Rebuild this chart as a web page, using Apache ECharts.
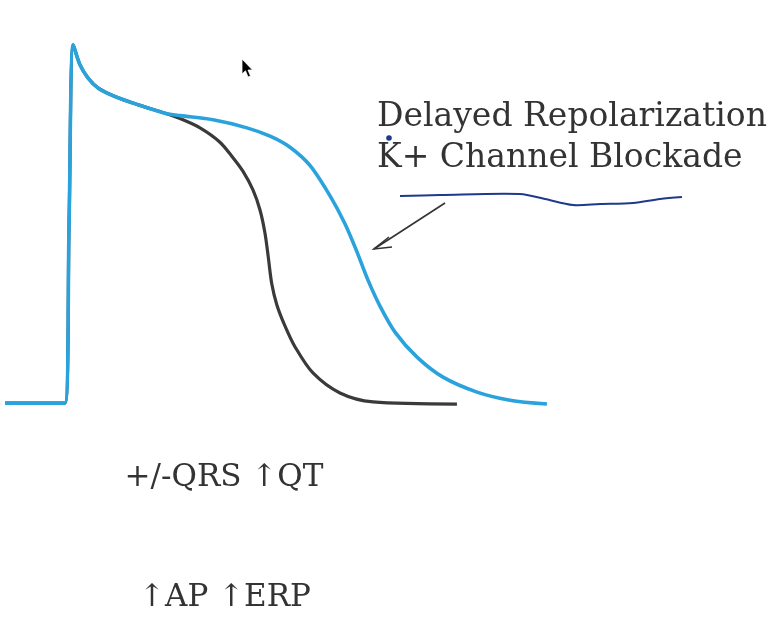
<!DOCTYPE html>
<html>
<head>
<meta charset="utf-8">
<script src="https://cdn.jsdelivr.net/npm/echarts@6/dist/echarts.min.js"></script>
<style>html,body{margin:0;padding:0;background:#fff;}#c{width:779px;height:619px;}</style>
</head>
<body>
<div id="c"></div>
<script>
// Time (ms) and membrane potential (mV)
var controlTime = [0, 40, 42.7, 45.5, 50, 55.5, 62.2, 73.3, 88.9, 106.7, 116.7, 130, 143.3, 152, 158.7, 165.3, 170, 173.3, 175.5, 177.8, 181.3, 186.7, 193.3, 205.3, 223.3, 245.3, 301.3];
var controlMv   = [-90, -90, -30, 30, 23.3, 18.8, 15.5, 12.7, 9.9, 7.1, 5.3, 2.2, -2.6, -7.8, -12.4, -18.6, -25.3, -33, -41, -49.9, -57.2, -64.2, -71.1, -79.9, -86.6, -89.6, -90.3];
var blockTime = [0, 40, 42.7, 45.5, 50, 55.5, 62.2, 73.3, 88.9, 106.7, 116.7, 138.7, 161.3, 176.7, 190, 203.3, 216.7, 226.7, 234.7, 242, 250, 260, 274.7, 292, 314.7, 336.7, 361.3];
var blockMv   = [-90, -90, -30, 30, 23.3, 18.8, 15.5, 12.7, 9.9, 7.1, 6.3, 4.9, 2.2, -0.6, -4.3, -10.4, -20.6, -30, -39.4, -48.8, -57.5, -66.2, -74.6, -81.3, -86.3, -89, -90.3];
var labelTitle = ["Delayed Repolarization", "K+ Channel Blockade"];
var labelBottom = ["+/-QRS \u2191QT", "\u2191AP \u2191ERP"];

function pairs(t, v) { return t.map(function (x, i) { return [x, v[i]]; }); }

var chart = echarts.init(document.getElementById('c'), null, {renderer: 'canvas'});
var font = '"DejaVu Serif", serif';
chart.setOption({
  backgroundColor: '#ffffff',
  animation: false,
  grid: {left: 5, right: 24, top: 15, bottom: 186},
  xAxis: {type: 'value', min: 0, max: 500, show: false, splitLine: {show: false}},
  yAxis: {type: 'value', min: -100, max: 40, show: false, splitLine: {show: false}},
  series: [
    {
      type: 'line', data: pairs(controlTime, controlMv), showSymbol: false,
      smooth: 0.3,
      lineStyle: {color: '#3a3a3a', width: 3.2}
    },
    {
      type: 'line', data: pairs(blockTime, blockMv), showSymbol: false,
      smooth: 0.3,
      lineStyle: {color: '#2aa3dc', width: 3.6}
    }
  ],
  graphic: [
    {type: 'text', x: 377, y: 101, style: {text: labelTitle[0], font: '33px ' + font, fill: '#333333'}},
    {type: 'text', x: 377, y: 142, style: {text: labelTitle[1], font: '33px ' + font, fill: '#333333'}},
    {type: 'text', x: 224, y: 462, style: {text: labelBottom[0], font: '31px ' + font, fill: '#333333', textAlign: 'center'}},
    {type: 'text', x: 225, y: 582, style: {text: labelBottom[1], font: '31px ' + font, fill: '#333333', textAlign: 'center'}},
    {type: 'polyline', shape: {points: [[400,196],[440,195],[520,194],[545,199],[573,205],[600,204],[633,203],[660,199],[682,197]], smooth: 0.3},
      style: {stroke: '#1f3a8a', lineWidth: 2, fill: null}},
    {type: 'circle', shape: {cx: 389, cy: 138, r: 2.8}, style: {fill: '#1f3a8a'}},
    {type: 'line', shape: {x1: 445, y1: 203, x2: 374, y2: 249}, style: {stroke: '#333', lineWidth: 1.6}},
    {type: 'polyline', shape: {points: [[389,237],[374,249],[392,247]]}, style: {stroke: '#333', lineWidth: 1.6, fill: null}},
    {type: 'polygon', shape: {points: [[242,59],[242,74],[245.5,70.8],[248,77],[250.5,76],[248,70],[252.5,70]]},
      style: {fill: '#000', stroke: '#fff', lineWidth: 0.8}}
  ]
});
</script>
</body>
</html>
